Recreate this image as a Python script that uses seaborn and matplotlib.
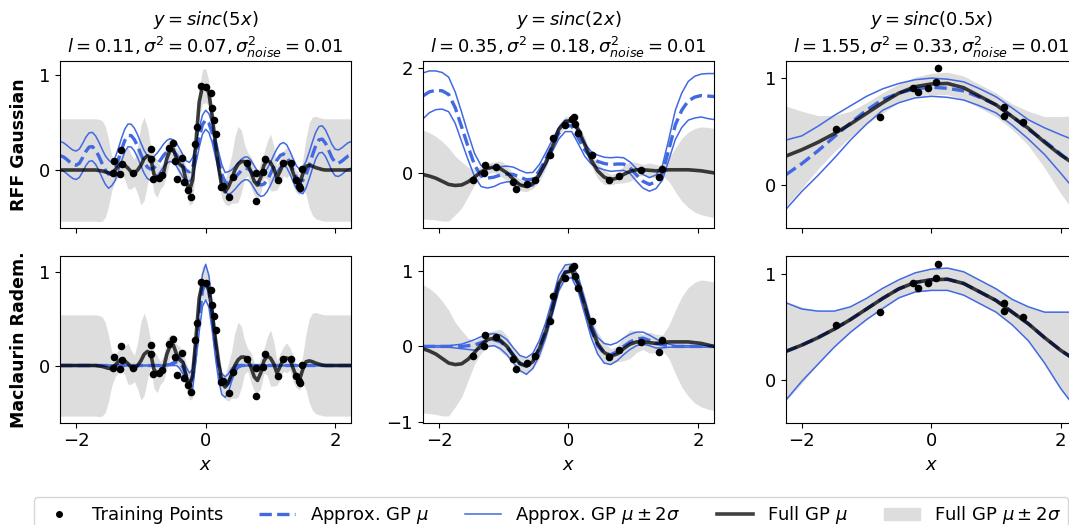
import numpy as np
import seaborn as sns
import matplotlib.pyplot as plt
from matplotlib.lines import Line2D
from matplotlib.patches import Patch

# x positions at which the curves were read (one grid per column)
x_c1 = np.linspace(-2.25, 2.25, 91)
x_c2 = np.linspace(-2.25, 2.25, 46)
x_c3 = np.linspace(-2.25, 2.25, 19)

# ---- column 1: sinc(5x) ----
pts_x_c1 = [-1.43, -1.41, -1.33, -1.31, -1.29, -1.12, -0.84, -0.84, -0.81, -0.72, -0.67,
            -0.56, -0.51, -0.47, -0.45, -0.36, -0.33, -0.27, -0.22, -0.17, -0.14, -0.07,
            0.00, 0.08, 0.10, 0.13, 0.16, 0.24, 0.27, 0.36, 0.42, 0.64, 0.78, 0.78, 0.91,
            0.89, 1.11, 1.19, 1.31, 1.40, 1.44, 1.45, 1.48]
pts_y_c1 = [-0.03, 0.09, -0.04, 0.21, 0.06, -0.03, 0.22, 0.12, -0.09, -0.08, -0.05,
            0.23, 0.28, 0.09, -0.10, 0.13, -0.13, -0.21, -0.28, 0.27, 0.45, 0.89,
            0.88, 0.81, 0.65, 0.53, 0.38, -0.18, -0.17, -0.29, -0.07, 0.07, -0.03, -0.33, 0.12,
            -0.02, -0.11, 0.07, 0.07, -0.11, -0.17, -0.19, 0.01]

full_mu_c1 = [0.0] * 12 + [
    -0.005, -0.01, -0.02, -0.03, -0.035, 0.0, 0.04, 0.07, 0.05, 0.02,
    -0.02, -0.03, 0.0, 0.05, 0.12, 0.15, 0.13, -0.04, -0.09, -0.08,
    -0.03, 0.12, 0.21, 0.22, 0.12, 0.06, 0.03, -0.12, -0.22, -0.10,
    0.30, 0.72, 0.88, 0.89, 0.81, 0.57, 0.28, 0.03, -0.18, -0.23,
    -0.18, -0.10, 0.0, 0.06, 0.09, 0.09, 0.06, -0.02, -0.12, -0.16,
    -0.08, 0.05, 0.10, 0.08, 0.02, -0.08, -0.01, 0.07, 0.08, 0.07,
    -0.03, -0.12, -0.15, -0.04, 0.04, 0.05, 0.04, 0.025, 0.015, 0.005] + [0.0] * 9
full_sd2_c1 = [0.54] * 13 + [
    0.53, 0.48, 0.35, 0.18, 0.12, 0.12, 0.10, 0.15, 0.22, 0.18,
    0.14, 0.25, 0.42, 0.44, 0.30, 0.13, 0.20, 0.20, 0.12, 0.13,
    0.16, 0.12, 0.11, 0.11, 0.14, 0.12, 0.14, 0.15, 0.25, 0.13,
    0.14, 0.18, 0.18, 0.13, 0.11, 0.12, 0.15, 0.12, 0.13, 0.20,
    0.25, 0.35, 0.40, 0.33, 0.18, 0.12, 0.16, 0.15, 0.13, 0.17,
    0.13, 0.20, 0.30, 0.24, 0.13, 0.14, 0.13, 0.16, 0.12, 0.14,
    0.12, 0.11, 0.15, 0.30, 0.45, 0.52] + [0.54] * 12

rff_mu_c1 = [
    0.15, 0.14, 0.115, 0.085, 0.06, 0.05, 0.072, 0.13, 0.196, 0.242,
    0.247, 0.21, 0.146, 0.07, 0.0, -0.043, -0.045, 0.007, 0.105, 0.215,
    0.31, 0.365, 0.363, 0.32, 0.25, 0.165, 0.085, 0.03, 0.01, 0.022,
    0.058, 0.104, 0.154, 0.192, 0.21, 0.199, 0.16, 0.102, 0.04, -0.004,
    -0.02, 0.032, 0.17, 0.34, 0.478, 0.53, 0.494, 0.392, 0.242, 0.091,
    -0.046, -0.127, -0.138, -0.119, -0.085, -0.044, -0.007, 0.016, 0.017, -0.017,
    -0.075, -0.131, -0.159, -0.149, -0.106, -0.041, 0.035, 0.104, 0.153, 0.17,
    0.147, 0.08, 0.0, -0.074, -0.116, -0.11, -0.05, 0.05, 0.16, 0.258,
    0.319, 0.326, 0.283, 0.208, 0.13, 0.079, 0.072, 0.092, 0.121, 0.148,
    0.16]
rff_sd2_c1 = [0.15] * 16 + [0.12] * 23 + [0.10] * 13 + [0.12] * 23 + [0.14] * 16

mac_mu_c1 = [0.0] * 33 + [
    0.005, 0.01, 0.02, 0.04, 0.03, -0.02, -0.10, -0.17, -0.14, 0.15,
    0.50, 0.80, 0.89, 0.79, 0.52, 0.20, -0.06, -0.20, -0.23, -0.19,
    -0.10, -0.04, -0.01] + [0.0] * 35
mac_sd2_c1 = [0.005] * 34 + [
    0.01, 0.02, 0.04, 0.06, 0.07, 0.08, 0.09, 0.10, 0.10, 0.14,
    0.17, 0.19, 0.17, 0.14, 0.11, 0.10, 0.11, 0.11, 0.10, 0.07,
    0.04, 0.02, 0.01] + [0.005] * 34

# ---- column 2: sinc(2x) ----
pts_x_c2 = [-1.47, -1.30, -1.29, -1.12, -0.85, -0.81, -0.64, -0.52, -0.29, -0.24,
            -0.05, 0.05, 0.08, 0.10, 0.14, 0.37, 0.63, 0.78, 1.12, 1.40, 1.44]
pts_y_c2 = [-0.13, 0.00, 0.15, 0.12, -0.17, -0.30, -0.22, -0.13, 0.34, 0.67,
            0.91, 1.04, 1.06, 0.93, 0.77, 0.34, -0.14, -0.05, 0.06, -0.07, 0.08]

full_mu_c2 = [
    -0.03, -0.06, -0.10, -0.16, -0.22, -0.24, -0.23, -0.17, -0.08, 0.02,
    0.09, 0.11, 0.08, 0.0, -0.12, -0.23, -0.26, -0.20, -0.03, 0.20,
    0.50, 0.83, 0.98, 1.00, 0.83, 0.55, 0.25, 0.04, -0.08, -0.13,
    -0.10, -0.03, 0.03, 0.06, 0.06, 0.05, 0.04, 0.05, 0.06, 0.06,
    0.06, 0.06, 0.05, 0.04, 0.02, 0.0]
full_sd2_c2 = [
    0.85, 0.83, 0.80, 0.76, 0.70, 0.56, 0.44, 0.28, 0.15, 0.11,
    0.10, 0.10, 0.15, 0.14, 0.10, 0.11, 0.10, 0.10, 0.13, 0.12,
    0.10, 0.11, 0.10, 0.09, 0.10, 0.14, 0.11, 0.15, 0.14, 0.10,
    0.10, 0.16, 0.19, 0.14, 0.10, 0.14, 0.12, 0.10, 0.22, 0.42,
    0.60, 0.72, 0.80, 0.84, 0.85, 0.85]

rff_mu_c2 = [
    1.47, 1.55, 1.58, 1.57, 1.50, 1.25, 0.88, 0.50, 0.15, -0.06,
    -0.10, -0.08, -0.04, -0.02, -0.03, -0.08, -0.13, -0.12, 0.04, 0.27,
    0.52, 0.76, 0.90, 0.90, 0.67, 0.44, 0.29, 0.22, 0.18, 0.16,
    0.17, 0.17, 0.10, -0.04, -0.16, -0.22, -0.17, 0.0, 0.45, 0.92,
    1.20, 1.38, 1.45, 1.48, 1.47, 1.46]
rff_sd2_c2 = [
    0.44, 0.40, 0.37, 0.35, 0.33, 0.30, 0.28, 0.25, 0.22, 0.20,
    0.19, 0.18, 0.16, 0.15, 0.14, 0.13, 0.13, 0.13, 0.12, 0.12,
    0.11, 0.11, 0.11, 0.11, 0.11, 0.12, 0.12, 0.12, 0.12, 0.13,
    0.13, 0.12, 0.11, 0.12, 0.13, 0.13, 0.13, 0.14, 0.20, 0.28,
    0.33, 0.37, 0.40, 0.41, 0.43, 0.44]

mac_mu_c2 = [0.0] * 7 + [
    0.01, 0.02, 0.05,
    0.08, 0.09, 0.06, -0.01, -0.12, -0.22, -0.26, -0.19, -0.02, 0.22,
    0.52, 0.84, 0.99, 1.00, 0.83, 0.53, 0.22, 0.01, -0.09, -0.11,
    -0.07, 0.0, 0.06, 0.10, 0.11, 0.08, 0.04, 0.02, 0.01, 0.0] + [0.0] * 6
mac_sd2_c2 = [0.01] * 5 + [
    0.02, 0.03, 0.05, 0.07, 0.08,
    0.08, 0.08, 0.09, 0.10, 0.10, 0.10, 0.11, 0.10, 0.10, 0.10,
    0.10, 0.10, 0.09, 0.09, 0.10, 0.10, 0.10, 0.11, 0.13, 0.13,
    0.12, 0.11, 0.10, 0.09, 0.08, 0.07, 0.06, 0.04, 0.02, 0.01] + [0.01] * 6

# ---- column 3: sinc(0.5x) ----
pts_x_c3 = [-1.47, -0.80, -0.29, -0.21, -0.05, 0.07, 0.10, 1.12, 1.12, 1.42]
pts_y_c3 = [0.52, 0.64, 0.91, 0.87, 0.91, 0.96, 1.09, 0.73, 0.65, 0.59]

full_mu_c3 = [0.27, 0.33, 0.40, 0.48, 0.57, 0.67, 0.77, 0.86, 0.92, 0.945,
              0.95, 0.91, 0.83, 0.75, 0.64, 0.53, 0.40, 0.28, 0.18]
full_sd2_c3 = [0.47, 0.36, 0.25, 0.17, 0.12, 0.10, 0.095, 0.085, 0.09, 0.10,
               0.105, 0.11, 0.11, 0.11, 0.12, 0.16, 0.24, 0.36, 0.47]

rff_mu_c3 = [0.095, 0.20, 0.32, 0.45, 0.58, 0.70, 0.80, 0.86, 0.90, 0.915,
             0.905, 0.88, 0.82, 0.75, 0.64, 0.52, 0.41, 0.29, 0.17]
rff_sd2_c3 = [0.325, 0.26, 0.23, 0.20, 0.16, 0.13, 0.10, 0.09, 0.085, 0.085,
              0.085, 0.085, 0.08, 0.075, 0.08, 0.09, 0.125, 0.18, 0.24]

mac_mu_c3 = [0.27, 0.33, 0.40, 0.48, 0.57, 0.67, 0.77, 0.86, 0.92, 0.945,
             0.95, 0.91, 0.83, 0.75, 0.64, 0.53, 0.40, 0.28, 0.18]
mac_sd2_c3 = [0.46, 0.34, 0.25, 0.17, 0.12, 0.10, 0.095, 0.085, 0.09, 0.10,
              0.105, 0.11, 0.11, 0.11, 0.12, 0.16, 0.24, 0.36, 0.46]

titles = [r"$y = sinc(5x)$" + "\n" + r"$l = 0.11, \sigma^2 = 0.07, \sigma_{noise}^2 = 0.01$",
          r"$y = sinc(2x)$" + "\n" + r"$l = 0.35, \sigma^2 = 0.18, \sigma_{noise}^2 = 0.01$",
          r"$y = sinc(0.5x)$" + "\n" + r"$l = 1.55, \sigma^2 = 0.33, \sigma_{noise}^2 = 0.01$"]
row_labels = ["RFF Gaussian", "Maclaurin Radem."]
yticks = [[[0, 1], [0, 2], [0, 1]], [[0, 1], [-1, 0, 1], [0, 1]]]
ylims = [[(-0.61, 1.15), (-1.05, 2.14), (-0.40, 1.16)],
         [(-0.61, 1.17), (-1.01, 1.20), (-0.40, 1.17)]]

cols = [
    (x_c1, pts_x_c1, pts_y_c1, full_mu_c1, full_sd2_c1,
     [(rff_mu_c1, rff_sd2_c1), (mac_mu_c1, mac_sd2_c1)]),
    (x_c2, pts_x_c2, pts_y_c2, full_mu_c2, full_sd2_c2,
     [(rff_mu_c2, rff_sd2_c2), (mac_mu_c2, mac_sd2_c2)]),
    (x_c3, pts_x_c3, pts_y_c3, full_mu_c3, full_sd2_c3,
     [(rff_mu_c3, rff_sd2_c3), (mac_mu_c3, mac_sd2_c3)]),
]

blue = "royalblue"
gray = "#dddddd"

fig, axes = plt.subplots(2, 3, figsize=(10.69, 5.25), dpi=100, sharex=True)
plt.subplots_adjust(left=0.0561, right=1.0075, top=0.8838, bottom=0.1949,
                    wspace=0.245, hspace=0.168)

for j, (xg, px, py, fmu, fsd2, approx) in enumerate(cols):
    fmu = np.array(fmu)
    fsd2 = np.array(fsd2)
    for i in range(2):
        ax = axes[i, j]
        amu = np.array(approx[i][0])
        asd2 = np.array(approx[i][1])
        ax.fill_between(xg, fmu - fsd2, fmu + fsd2, color=gray, lw=0)
        sns.lineplot(x=xg, y=amu, ax=ax, color=blue, lw=2.4, linestyle="--")
        sns.lineplot(x=xg, y=amu + asd2, ax=ax, color=blue, lw=1.1)
        sns.lineplot(x=xg, y=amu - asd2, ax=ax, color=blue, lw=1.1)
        sns.lineplot(x=xg, y=fmu, ax=ax, color="k", lw=2.6, alpha=0.75)
        sns.scatterplot(x=px, y=py, ax=ax, color="k", s=30, linewidth=0, zorder=5)
        ax.set_xlim(-2.25, 2.25)
        ax.set_ylim(*ylims[i][j])
        ax.set_xticks([-2, 0, 2])
        ax.set_yticks(yticks[i][j])
        ax.tick_params(labelsize=13)
        if i == 0:
            ax.set_title(titles[j], fontsize=13)
        else:
            ax.set_xlabel("$x$", fontsize=13)
axes[0, 0].set_ylabel(row_labels[0], fontsize=12.5, fontweight="bold", labelpad=8)
axes[1, 0].set_ylabel(row_labels[1], fontsize=12.5, fontweight="bold", labelpad=8)

handles = [
    Line2D([], [], marker="o", color="k", ls="", ms=4),
    Line2D([], [], color=blue, lw=2.4, ls="--"),
    Line2D([], [], color=blue, lw=1.1),
    Line2D([], [], color="k", lw=2.6, alpha=0.75),
    Patch(color=gray),
]
labels = ["Training Points", r"Approx. GP $\mu$", r"Approx. GP $\mu \pm 2\sigma$",
          r"Full GP $\mu$", r"Full GP $\mu \pm 2\sigma$"]
fig.legend(handles, labels, loc="upper left", bbox_to_anchor=(34 / 1069, 1 - 497 / 525),
           borderaxespad=0, ncol=5, fontsize=13, frameon=True)

plt.savefig("out.png", dpi=100)
